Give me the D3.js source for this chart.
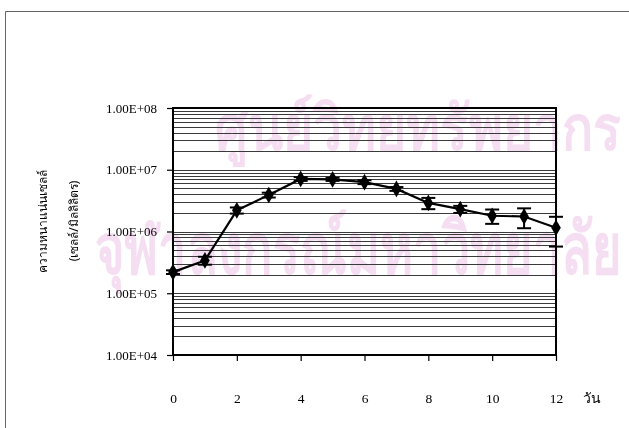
<!DOCTYPE html>
<html>
<head>
<meta charset="utf-8">
<script src="https://cdn.jsdelivr.net/npm/d3@7/dist/d3.min.js"></script>
<style>
  html, body { margin: 0; padding: 0; background: #fff; }
  svg { display: block; }
</style>
</head>
<body>
<svg id="chart" width="629" height="428"></svg>
<script>
// Cell density over the culture period (cells/mL), mean ± SD per day
const days = [0, 1, 2, 3, 4, 5, 6, 7, 8, 9, 10, 11, 12];
const density = [2.2e5, 3.4e5, 2.2e6, 3.9e6, 7.1e6, 7.0e6, 6.3e6, 4.9e6, 2.9e6, 2.3e6, 1.8e6, 1.75e6, 1.15e6];
const densitySD = [0.15e5, 0.5e5, 0.25e6, 0.35e6, 0.5e6, 0.4e6, 0.45e6, 0.35e6, 0.6e6, 0.3e6, 0.47e6, 0.62e6, 0.58e6];

const xTicks = [0, 2, 4, 6, 8, 10, 12];
const yTicks = [1e4, 1e5, 1e6, 1e7, 1e8];
const yTickLabels = ["1.00E+04", "1.00E+05", "1.00E+06", "1.00E+07", "1.00E+08"];
const yTitle = ["ความหนาแน่นเซลล์", "(เซลล์/มิลลิลิตร)"];
const xUnit = "วัน";
const watermark = ["ศูนย์วิทยทรัพยากร", "จุฬาลงกรณ์มหาวิทยาลัย"];

const svg = d3.select("#chart");
const W = 629, H = 428;
const plot = { left: 173, right: 556, top: 108, bottom: 355 };

const x = d3.scaleLinear().domain([0, 12]).range([plot.left, plot.right]);
const y = d3.scaleLog().domain([1e4, 1e8]).range([plot.bottom, plot.top]);

svg.append("rect").attr("width", W).attr("height", H).attr("fill", "#fff");

// faint library stamp behind everything, squeezed horizontally to fit the page
const wm = svg.append("g").attr("fill", "#f1c9ea").attr("opacity", 0.6)
  .style("font-family", "'Noto Sans', 'DejaVu Sans', sans-serif").style("font-weight", "bold");
[[watermark[0], 215, 150, 62, 405], [watermark[1], 95, 274, 72, 525]].forEach(([t, tx, ty, fs, w]) => {
  const el = wm.append("text").attr("font-size", fs).text(t);
  const len = el.node().getComputedTextLength();
  const sx = Math.min(1, w / len);
  el.attr("transform", `translate(${tx},${ty}) scale(${sx},1)`);
});

// outer frame
svg.append("path")
  .attr("d", `M5.5,${H} V11.5 H${W}`)
  .attr("fill", "none").attr("stroke", "#666").attr("stroke-width", 1);

// horizontal grid: every 1..9 multiple of each decade
const gridVals = [];
for (let e = 4; e < 8; e++) for (let k = 1; k <= 9; k++) gridVals.push(k * Math.pow(10, e));
gridVals.push(1e8);
svg.append("g").selectAll("line").data(gridVals).join("line")
  .attr("x1", plot.left).attr("x2", plot.right)
  .attr("y1", d => Math.round(y(d)) + 0.5).attr("y2", d => Math.round(y(d)) + 0.5)
  .attr("stroke", "#3a3a3a").attr("stroke-width", 1);

// y axis
const yAxis = d3.axisLeft(y).tickValues(yTicks)
  .tickFormat((d, i) => yTickLabels[i]).tickSize(6).tickPadding(10);
const gy = svg.append("g").attr("transform", `translate(${plot.left},0)`).call(yAxis);
gy.select(".domain").remove();
gy.selectAll(".tick line").attr("stroke", "#000").attr("stroke-width", 1.2);
gy.selectAll(".tick text").attr("fill", "#000")
  .style("font-family", "'Liberation Serif', 'Times New Roman', serif").style("font-size", "13px");

// x axis
const xAxis = d3.axisBottom(x).tickValues(xTicks).tickSize(6).tickPadding(32);
const gx = svg.append("g").attr("transform", `translate(0,${plot.bottom})`).call(xAxis);
gx.select(".domain").remove();
gx.selectAll(".tick line").attr("stroke", "#000").attr("stroke-width", 1.2);
gx.selectAll(".tick text").attr("fill", "#000")
  .style("font-family", "'Liberation Serif', 'Times New Roman', serif").style("font-size", "13.5px");

// plot box
svg.append("rect")
  .attr("x", plot.left).attr("y", plot.top)
  .attr("width", plot.right - plot.left).attr("height", plot.bottom - plot.top)
  .attr("fill", "none").attr("stroke", "#000").attr("stroke-width", 2);

// x unit label
svg.append("text").attr("x", 592).attr("y", 403).attr("text-anchor", "middle")
  .style("font-family", "'Liberation Serif', 'Noto Sans', serif").style("font-size", "14px")
  .attr("fill", "#000").text(xUnit);

// y title (two rotated lines)
yTitle.forEach((t, i) => {
  svg.append("text")
    .attr("transform", `translate(${47 + i * 31},221) rotate(-90)`)
    .attr("text-anchor", "middle")
    .style("font-family", "'Noto Sans', 'DejaVu Sans', sans-serif").style("font-size", "12px")
    .attr("fill", "#000").text(t);
});

const pts = days.map((d, i) => ({ day: d, v: density[i], sd: densitySD[i] }));

// error bars
const eb = svg.append("g").attr("stroke", "#000").attr("stroke-width", 2);
pts.forEach(p => {
  const hi = y(p.v + p.sd), lo = y(p.v - p.sd), cx = x(p.day);
  eb.append("line").attr("x1", cx).attr("x2", cx).attr("y1", hi).attr("y2", lo);
  eb.append("line").attr("x1", cx - 7).attr("x2", cx + 7).attr("y1", hi).attr("y2", hi);
  eb.append("line").attr("x1", cx - 7).attr("x2", cx + 7).attr("y1", lo).attr("y2", lo);
});

// series line
svg.append("path").datum(pts)
  .attr("d", d3.line().x(p => x(p.day)).y(p => y(p.v)))
  .attr("fill", "none").attr("stroke", "#000").attr("stroke-width", 2.2);

// diamond markers
svg.append("g").selectAll("path").data(pts).join("path")
  .attr("transform", p => `translate(${x(p.day)},${y(p.v)})`)
  .attr("d", d3.symbol().type(d3.symbolDiamond).size(80))
  .attr("fill", "#000");
</script>
</body>
</html>
